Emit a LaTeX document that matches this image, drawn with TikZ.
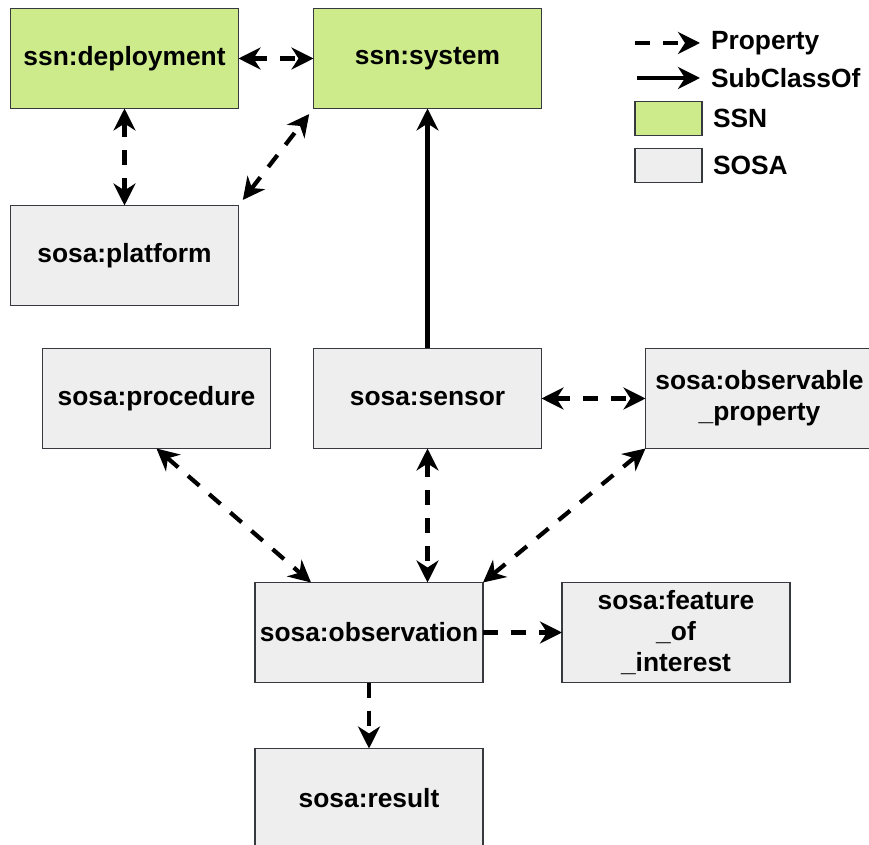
\documentclass[tikz,border=0pt]{standalone}
\usepackage{fontspec}
\setmainfont{Liberation Sans}
\usetikzlibrary{positioning,arrows.meta}
\definecolor{ssngreen}{HTML}{CDEB8B}
\definecolor{sosagray}{HTML}{EEEEEE}
\definecolor{boxline}{HTML}{36393D}

\begin{document}
\begin{tikzpicture}[node distance = 1.5cm,
		font=\fontsize{15}{17.6}\selectfont\bfseries,
		>={Stealth[length=0.44cm,width=0.44cm,inset=0.14cm]},
		box/.style={draw=boxline, line width=1.1pt, minimum width=4.56cm, minimum height=2cm, align=center, outer sep=0pt, inner sep=2pt},
		ssn/.style={box, fill=ssngreen},
		sosa/.style={box, fill=sosagray},
		prop/.style={line width=2.4pt, dash pattern=on 0.3cm off 0.26cm},
		sub/.style={line width=2.4pt, ->},
		lbox/.style={draw=boxline, line width=1.1pt, minimum width=1.34cm, minimum height=0.68cm, outer sep=0pt},
		ltext/.style={anchor=west, inner xsep=0.22cm, outer sep=0pt}]
			\useasboundingbox (0,0) rectangle (17.38,-16.9);
			
			\node[ssn] (dep) at (2.49,-1.17) {ssn:deployment};
			\node[ssn, right=1.5cm of dep] (sys) {ssn:system};
			
			\node[sosa, below=1.94cm of dep] (plat) {sosa:platform};
			\node[sosa, below=4.8cm of sys] (sens) {sosa:sensor};
			\node[sosa, left=0.86cm of sens] (proc) {sosa:procedure};
			\node[sosa, right=2.08cm of sens] (oprop) {sosa:observable\\\_property};
			
			\node[sosa, below=2.68cm of sens, xshift=-1.17cm] (obs) {sosa:observation};
			\node[sosa, right=1.58cm of obs] (feat) {sosa:feature\\\_of\\\_interest};
			\node[sosa, below=1.32cm of obs] (res) {sosa:result};
			
			
			\draw[prop, <->] (dep) -- (sys);
			\draw[prop, <->] (dep) -- (plat);
			\draw[prop, <->, shorten <=0.14cm, shorten >=0.14cm] (plat.north east) -- (sys.south west);
			\draw[sub] (sens) -- (sys);
			\draw[prop, <->] (sens) -- (oprop);
			\draw[prop, <->] (proc.south) -- ([xshift=1.12cm]obs.north west);
			\draw[prop, <->] (sens) -- (sens |- obs.north);
			\draw[prop, <->] (oprop.south west) -- (obs.north east);
			\draw[prop, ->] (obs) -- (feat);
			\draw[prop, ->] (obs) -- (res);
			
			% legend
			\coordinate (lp0) at (12.7,-0.86);
			\node[ltext] (lprop) at (14.0,-0.86) {Property};
			\draw[prop, ->] (lp0) -- (lprop.west);
			\coordinate (ls0) at (12.74,-1.56);
			\node[ltext] (lsub) at (14.0,-1.56) {SubClassOf};
			\draw[sub] (ls0) -- (lsub.west);
			\node[lbox, fill=ssngreen] (lssn) at (13.37,-2.37) {};
			\node[ltext, right=0cm of lssn] (tssn) {SSN};
			\node[lbox, fill=sosagray] (lsosa) at (13.37,-3.31) {};
			\node[ltext, right=0cm of lsosa] (tsosa) {SOSA};
			
			\end{tikzpicture}
\end{document}
